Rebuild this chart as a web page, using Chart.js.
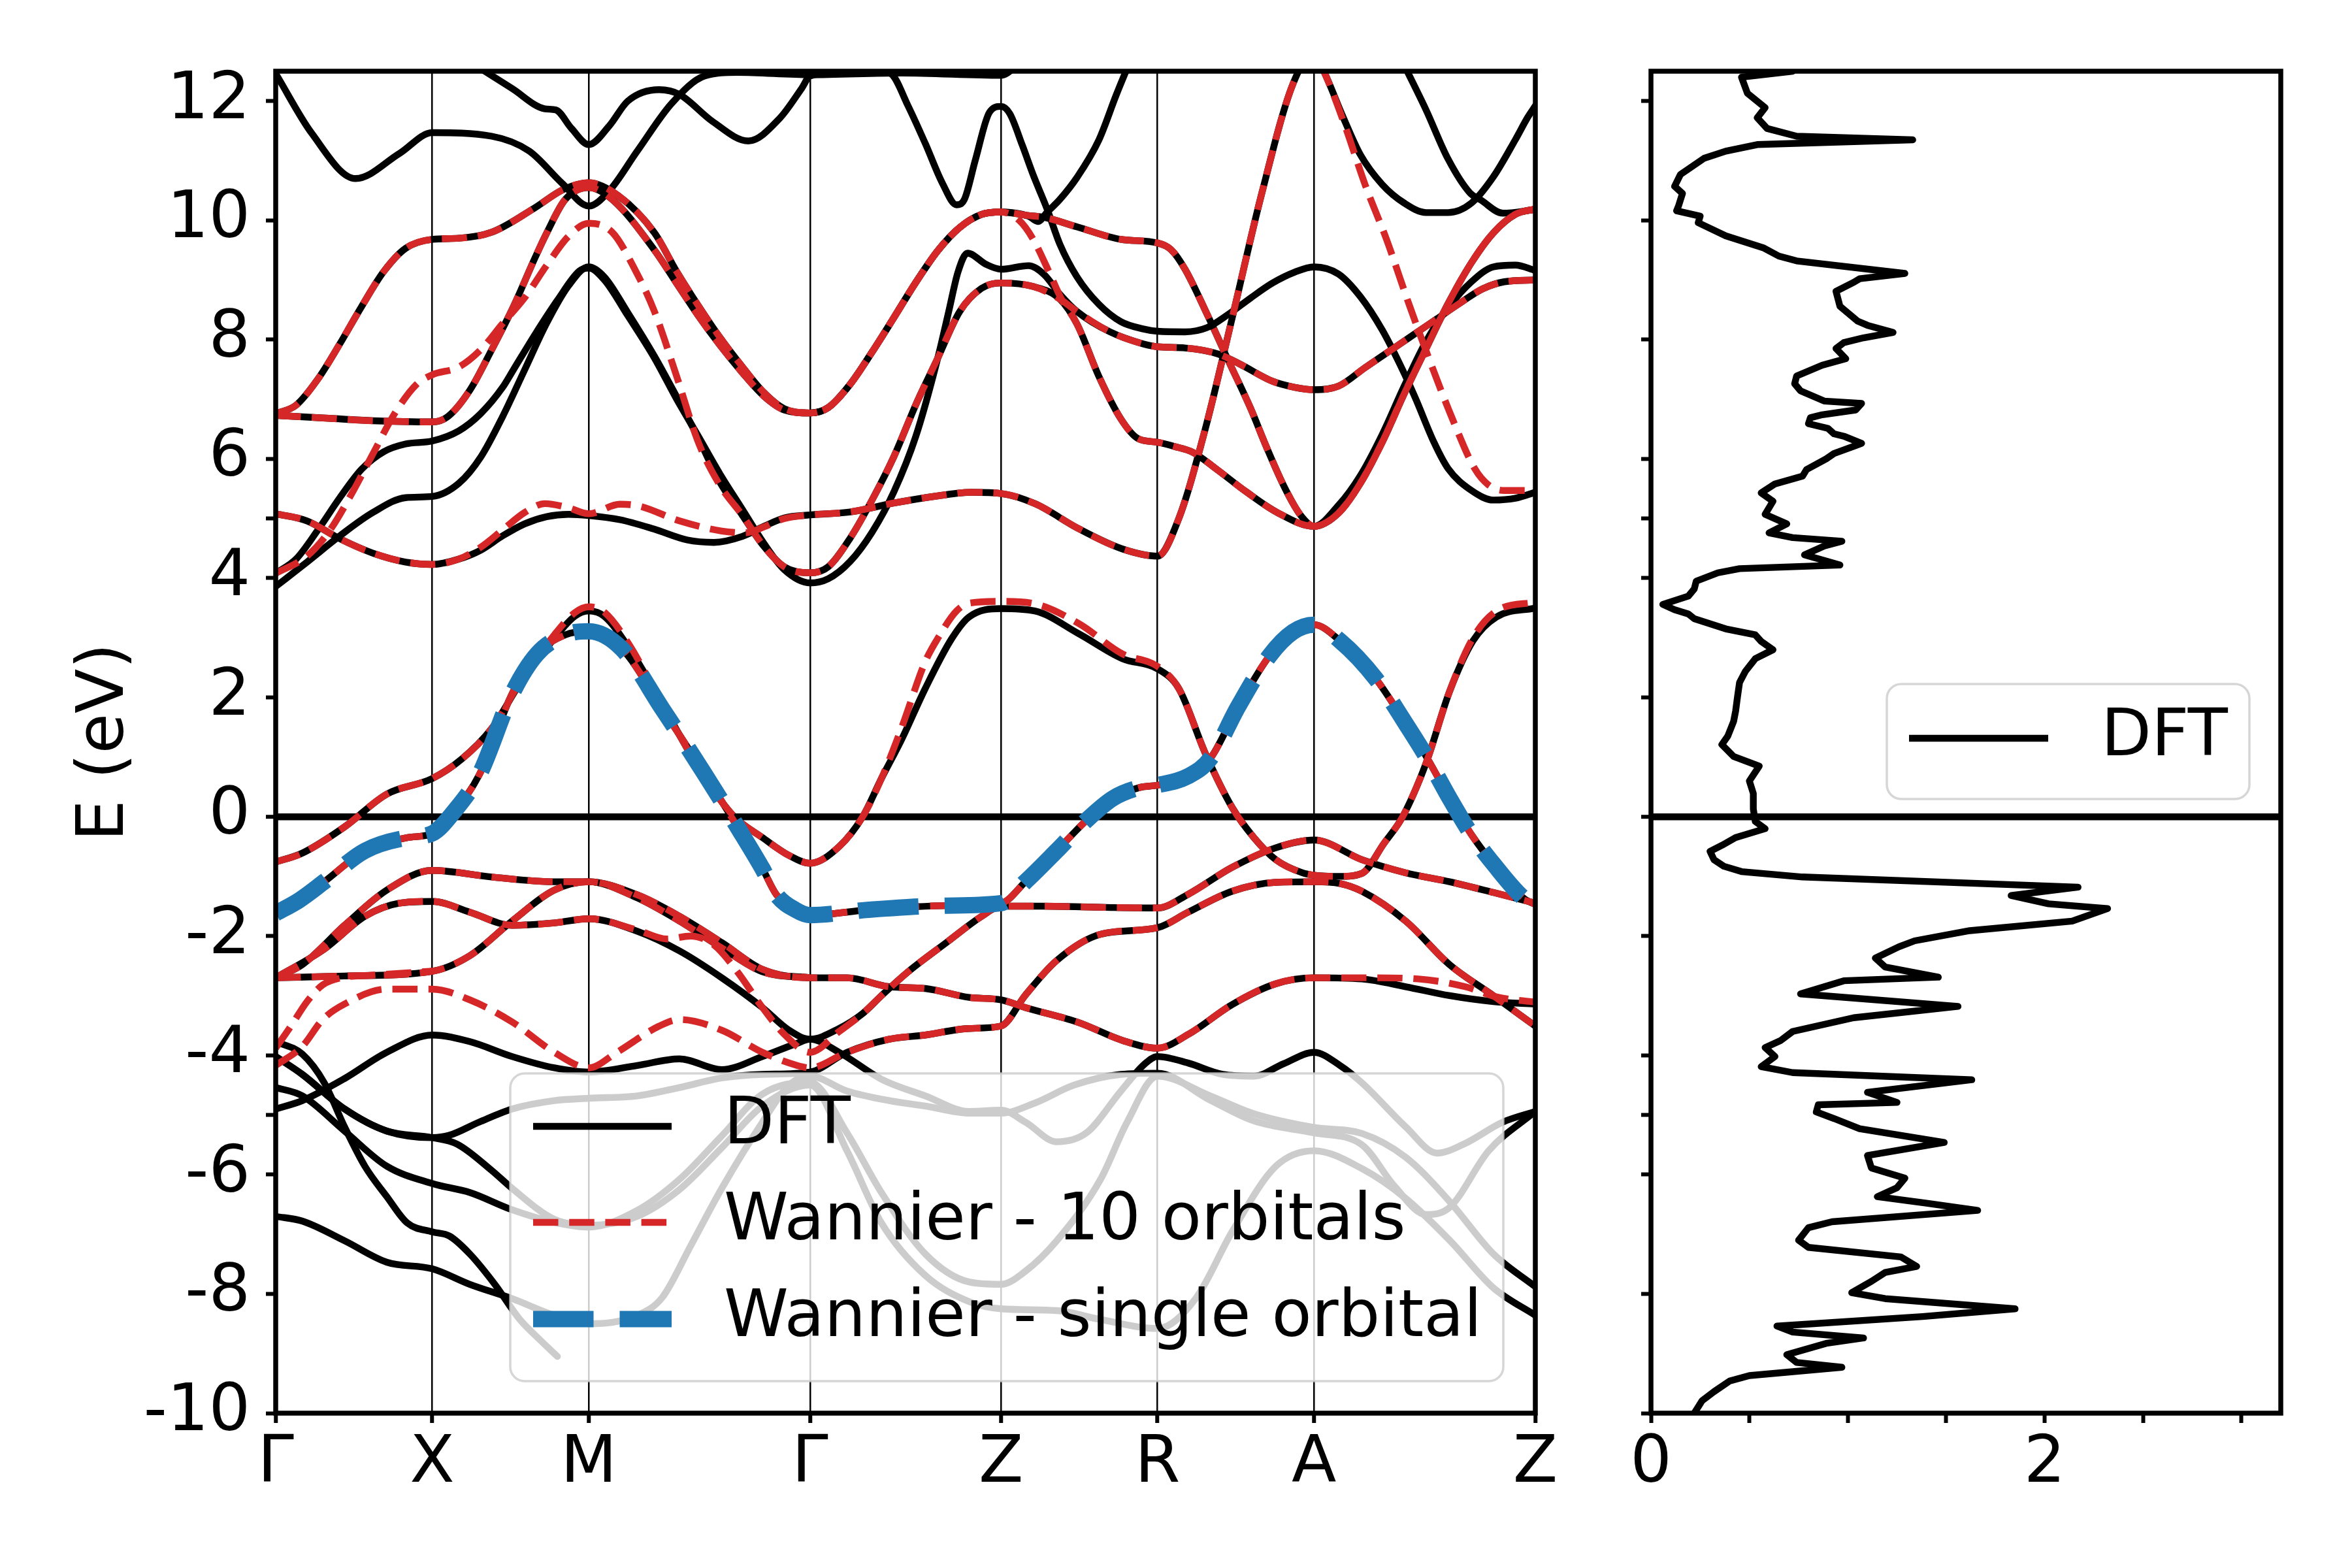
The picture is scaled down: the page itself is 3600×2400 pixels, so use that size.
<!DOCTYPE html>
<html>
<head>
<meta charset="utf-8">
<script src="https://cdn.jsdelivr.net/npm/chart.js@4.4.1/dist/chart.umd.min.js"></script>
<style>
  html, body { margin: 0; padding: 0; background: #fff; }
  #wrap { position: relative; width: 3600px; height: 2400px; }
  #wrap canvas { position: absolute; left: 0; top: 0; }
</style>
</head>
<body>
<div id="wrap">
  <canvas id="dos" width="3600" height="2400"></canvas>
  <canvas id="bands" width="3600" height="2400"></canvas>
</div>
<script>
// k-path
const kTicks = [0, 1, 2, 3.414, 4.634, 5.634, 6.634, 8.048];
const kLabels = ['Γ', 'X', 'M', 'Γ', 'Z', 'R', 'A', 'Z'];
const eTicks = [-10, -8, -6, -5, -4, -2, 0, 2, 4, 5, 6, 8, 10, 12];
const dosTicks = [0, 0.5, 1, 1.5, 2, 2.5, 3];
const seriesLabels = ['DFT', 'Wannier - 10 orbitals', 'Wannier - single orbital'];

// DFT bands [k, E]
const dft01 = [[0,12.46],[0.23,11.46],[0.51,10.70],[0.79,11.12],[1,11.47],[1.38,11.41],[1.62,11.16],[1.83,10.62],[2,10.24],[2.13,10.49],[2.31,11.16],[2.53,11.96],[2.74,12.42],[2.95,12.48],[3.414,12.44],[4.0,12.47],[4.634,12.43],[4.75,12.62]];
const dft02 = [[1.30,12.56],[1.51,12.21],[1.72,11.87],[1.79,11.85],[1.89,11.54],[2,11.27],[2.13,11.58],[2.25,12.0],[2.45,12.19],[2.58,12.11],[2.79,11.66],[3.02,11.33],[3.22,11.71],[3.36,12.21],[3.414,12.42],[3.6,12.48],[3.85,12.5],[3.93,12.46],[4.04,11.92],[4.15,11.29],[4.26,10.62],[4.35,10.26],[4.40,10.35],[4.47,11.01],[4.56,11.81],[4.634,11.91],[4.69,11.79],[4.77,11.26],[4.84,10.76],[4.93,10.18],[5.01,9.60],[5.12,9.05],[5.26,8.59],[5.40,8.30],[5.54,8.18],[5.634,8.14],[5.81,8.13],[5.95,8.20],[6.09,8.43],[6.23,8.70],[6.37,8.95],[6.51,9.13],[6.634,9.22],[6.79,9.10],[6.93,8.72],[7.07,8.16],[7.18,7.60],[7.28,7.03],[7.40,6.28],[7.49,5.84],[7.64,5.47],[7.78,5.31],[7.92,5.34],[8.048,5.44]];
const dft03 = [[0,6.76],[0.13,6.90],[0.27,7.34],[0.41,7.93],[0.55,8.56],[0.69,9.14],[0.83,9.53],[1,9.68],[1.17,9.70],[1.38,9.80],[1.65,10.2],[1.84,10.52],[2,10.63],[2.19,10.41],[2.42,9.79],[2.56,9.15],[2.70,8.57],[2.84,8.03],[2.98,7.55],[3.12,7.11],[3.25,6.84],[3.414,6.77],[3.53,6.86],[3.67,7.25],[3.81,7.79],[3.95,8.37],[4.09,8.96],[4.23,9.49],[4.37,9.88],[4.51,10.1],[4.634,10.14],[4.81,10.07],[4.87,9.98],[4.93,10.14],[5.01,10.35],[5.12,10.72],[5.26,11.35],[5.37,12.1],[5.44,12.55]];
const dft04 = [[0,6.73],[0.34,6.68],[0.62,6.64],[1,6.62],[1.10,6.71],[1.24,7.15],[1.38,7.83],[1.52,8.56],[1.66,9.39],[1.73,9.78],[1.85,10.35],[2,10.55],[2.15,10.35],[2.42,9.5],[2.56,8.95],[2.70,8.4],[2.84,7.9],[2.98,7.45],[3.12,7.05],[3.25,6.82],[3.414,6.77],[3.53,6.86],[3.67,7.25],[3.81,7.79],[3.95,8.37],[4.09,8.96],[4.23,9.49],[4.37,9.88],[4.51,10.1],[4.634,10.14],[4.81,10.08],[4.91,10.05],[5.12,9.89],[5.40,9.68],[5.634,9.62],[5.72,9.51],[5.81,9.18],[5.95,8.43],[6.09,7.63],[6.23,6.84],[6.33,6.2],[6.45,5.5],[6.55,5.05],[6.634,4.87],[6.79,5.22],[6.93,5.72],[7.07,6.41],[7.21,7.22],[7.35,7.97],[7.49,8.53],[7.64,8.97],[7.78,9.22],[7.92,9.25],[8.048,9.16]];
const dft05 = [[0,5.08],[0.20,4.96],[0.41,4.66],[0.62,4.42],[0.83,4.27],[1,4.23],[1.17,4.32],[1.31,4.47],[1.45,4.71],[1.59,4.91],[1.73,5.03],[1.87,5.07],[2,5.05],[2.2,4.98],[2.42,4.82],[2.63,4.64],[2.80,4.60],[2.98,4.70],[3.12,4.87],[3.25,5.01],[3.414,5.06],[3.67,5.11],[3.95,5.26],[4.23,5.38],[4.45,5.44],[4.634,5.42],[4.85,5.25],[5.13,4.83],[5.41,4.49],[5.634,4.37],[5.77,5.0],[5.94,6.51],[6.11,8.35],[6.30,10.45],[6.50,12.29],[6.634,12.8],[6.70,12.48],[6.82,11.73],[6.93,11.1],[7.07,10.6],[7.21,10.29],[7.35,10.13],[7.49,10.13],[7.64,10.29],[7.78,10.73],[7.92,11.35],[8.0,11.73],[8.048,11.92]];
const dft06 = [[0,4.08],[0.13,4.32],[0.27,4.81],[0.41,5.35],[0.55,5.83],[0.69,6.12],[0.83,6.25],[1,6.30],[1.17,6.47],[1.31,6.76],[1.45,7.2],[1.52,7.5],[1.66,8.1],[1.80,8.66],[1.94,9.15],[2,9.2],[2.1,9.0],[2.25,8.4],[2.42,7.69],[2.56,7.01],[2.70,6.38],[2.84,5.74],[2.98,5.16],[3.12,4.58],[3.25,4.14],[3.414,3.92],[3.53,3.99],[3.67,4.28],[3.81,4.77],[3.95,5.45],[4.09,6.38],[4.23,7.69],[4.30,8.47],[4.36,9.14],[4.42,9.45],[4.54,9.26],[4.634,9.18],[4.81,9.24],[4.91,9.09],[5.01,8.76],[5.12,8.47],[5.33,8.13],[5.54,7.93],[5.634,7.88],[5.81,7.86],[6.02,7.76],[6.16,7.59],[6.37,7.30],[6.51,7.2],[6.634,7.16],[6.79,7.22],[6.96,7.53],[7.14,7.85],[7.28,8.10],[7.42,8.35],[7.56,8.60],[7.71,8.85],[7.85,8.97],[8.048,9.0]];
const dft07 = [[0,3.86],[0.2,4.27],[0.41,4.71],[0.62,5.10],[0.83,5.35],[1,5.37],[1.17,5.59],[1.31,6.03],[1.45,6.71],[1.59,7.49],[1.73,8.27],[1.87,8.90],[2,9.22],[2.1,9.05],[2.25,8.45],[2.42,7.72],[2.56,7.05],[2.70,6.35],[2.84,5.6],[2.98,5.06],[3.12,4.53],[3.25,4.19],[3.414,4.09],[3.53,4.19],[3.67,4.67],[3.81,5.31],[3.95,6.04],[4.09,6.91],[4.23,7.69],[4.37,8.47],[4.51,8.86],[4.634,8.95],[4.84,8.89],[5.01,8.68],[5.12,8.26],[5.26,7.38],[5.40,6.67],[5.51,6.34],[5.634,6.28],[5.74,6.21],[5.86,6.11],[6.0,5.85],[6.2,5.45],[6.4,5.1],[6.634,4.87],[6.79,5.09],[6.93,5.59],[7.07,6.28],[7.21,7.09],[7.35,7.85],[7.49,8.60],[7.64,9.29],[7.78,9.79],[7.92,10.1],[8.048,10.19]];
const dft08 = [[7.22,12.55],[7.35,11.85],[7.49,11.03],[7.63,10.46],[7.70,10.34],[7.84,10.12],[8.048,10.18]];
const dft09 = [[0,-0.76],[0.17,-0.61],[0.44,-0.17],[0.71,0.38],[1,0.64],[1.19,0.97],[1.38,1.48],[1.56,2.23],[1.78,2.99],[1.91,3.36],[2,3.45],[2.10,3.36],[2.26,2.82],[2.45,1.98],[2.63,1.14],[2.79,0.47],[2.93,0.0],[3.11,-0.35],[3.28,-0.65],[3.414,-0.78],[3.6,-0.5],[3.75,0.0],[3.87,0.64],[4.0,1.3],[4.15,2.15],[4.32,2.99],[4.43,3.35],[4.634,3.49],[4.85,3.45],[5.13,3.07],[5.41,2.65],[5.634,2.48],[5.77,2.15],[5.94,1.06],[6.11,0.16],[6.25,-0.35],[6.39,-0.72],[6.56,-0.94],[6.634,-0.98],[6.8,-1.0],[6.94,-0.95],[7.08,-0.45],[7.2,0.0],[7.35,0.9],[7.5,2.1],[7.65,2.95],[7.8,3.35],[8.048,3.5]];
const dft11 = [[0,-2.70],[0.17,-2.48],[0.44,-1.82],[0.71,-1.23],[1,-0.90],[1.38,-1.01],[1.78,-1.09],[2,-1.09],[2.31,-1.31],[2.58,-1.67],[2.85,-2.11],[3.11,-2.56],[3.414,-2.70],[3.65,-2.70],[3.92,-2.85],[4.15,-2.88],[4.43,-3.03],[4.634,-3.07],[4.79,-3.2],[5.13,-3.45],[5.41,-3.75],[5.634,-3.88],[5.83,-3.65],[6.11,-3.15],[6.39,-2.8],[6.634,-2.70],[6.94,-2.72],[7.22,-2.85],[7.5,-3.0],[7.78,-3.1],[8.048,-3.14]];
const dft12 = [[0,-2.70],[0.31,-2.22],[0.57,-1.67],[0.79,-1.45],[1,-1.42],[1.24,-1.60],[1.51,-1.82],[1.78,-1.78],[2,-1.71],[2.31,-1.92],[2.58,-2.25],[2.85,-2.7],[3.11,-3.2],[3.28,-3.58],[3.414,-3.73],[3.6,-3.55],[3.75,-3.3],[3.87,-3.0],[4.04,-2.6],[4.29,-2.1],[4.51,-1.67],[4.634,-1.5],[4.9,-1.5],[5.3,-1.52],[5.634,-1.53],[5.83,-1.3],[6.11,-0.85],[6.39,-0.52],[6.634,-0.39],[6.94,-0.72],[7.22,-0.94],[7.5,-1.09],[7.78,-1.27],[8.048,-1.45]];
const dft13 = [[0,-2.70],[0.44,-2.67],[1,-2.59],[1.24,-2.33],[1.51,-1.75],[1.78,-1.23],[2,-1.09],[2.31,-1.36],[2.58,-1.75],[2.85,-2.2],[3.11,-2.6],[3.414,-2.70]];
const dft14 = [[0,-4.02],[0.17,-4.32],[0.44,-4.90],[0.71,-5.27],[1,-5.38],[1.11,-5.34],[1.30,-5.12],[1.51,-4.90],[1.78,-4.76],[2,-4.72],[2.31,-4.68],[2.58,-4.54],[2.85,-4.38],[3.11,-4.32],[3.414,-4.28],[3.65,-3.95],[3.92,-3.73],[4.15,-3.66],[4.43,-3.55],[4.634,-3.51],[4.79,-2.99],[4.99,-2.41],[5.27,-1.97],[5.634,-1.86],[5.83,-1.6],[6.11,-1.25],[6.39,-1.1],[6.634,-1.09],[6.8,-1.12],[6.94,-1.25],[7.22,-1.75],[7.5,-2.48],[7.78,-3.0],[8.048,-3.51]];
const dft15 = [[0,-4.90],[0.17,-4.76],[0.44,-4.39],[0.71,-3.95],[1,-3.66],[1.24,-3.77],[1.51,-4.02],[1.78,-4.21],[2,-4.28],[2.31,-4.17],[2.58,-4.06],[2.85,-4.24],[3.11,-4.02],[3.33,-3.80],[3.414,-3.73],[3.6,-3.95],[3.87,-4.4],[4.15,-4.68],[4.43,-4.94],[4.634,-4.92],[4.79,-5.12],[4.99,-5.45],[5.18,-5.3],[5.40,-4.6],[5.55,-4.15],[5.634,-4.02],[5.83,-4.13],[6.05,-4.32],[6.25,-4.35],[6.44,-4.14],[6.634,-3.95],[6.80,-4.17],[6.94,-4.46],[7.22,-5.2],[7.42,-5.64],[7.59,-5.49],[7.84,-5.12],[8.048,-4.94]];
const dft16 = [[0,-3.77],[0.17,-3.98],[0.31,-4.46],[0.44,-5.20],[0.57,-5.86],[0.71,-6.37],[0.84,-6.81],[1,-6.96],[1.11,-7.03],[1.24,-7.33],[1.40,-7.84],[1.56,-8.43],[1.68,-8.75],[1.80,-9.05]];
const dft17 = [[0,-4.54],[0.17,-4.68],[0.44,-5.27],[0.71,-5.86],[1,-6.15],[1.24,-6.30],[1.51,-6.59],[1.78,-6.8],[2,-6.88],[2.31,-6.6],[2.58,-6.08],[2.85,-5.35],[3.11,-4.65],[3.414,-4.45],[3.65,-5.3],[3.87,-6.3],[4.15,-7.33],[4.43,-7.8],[4.634,-7.84],[4.79,-7.62],[4.99,-7.11],[5.27,-6.08],[5.44,-5.12],[5.634,-4.35],[5.97,-4.68],[6.25,-4.98],[6.634,-5.21],[6.94,-5.31],[7.22,-5.71],[7.5,-6.45],[7.78,-7.33],[8.048,-7.88]];
const dft18 = [[0,-4.02],[0.17,-4.32],[0.44,-4.90],[0.71,-5.27],[1,-5.38],[1.16,-5.49],[1.38,-5.93],[1.51,-6.23],[1.78,-6.75],[2,-6.85],[2.31,-6.7],[2.58,-6.25],[2.85,-5.55],[3.11,-4.85],[3.414,-4.5],[3.65,-5.6],[3.87,-6.81],[4.15,-7.69],[4.43,-8.13],[4.634,-8.25],[4.99,-8.28],[5.27,-8.43],[5.634,-8.58],[5.88,-8.07],[6.11,-6.96],[6.39,-5.86],[6.634,-5.6],[6.94,-5.9],[7.22,-6.4],[7.5,-7.1],[7.78,-7.9],[8.048,-8.36]];
const dft19 = [[0,-6.70],[0.17,-6.78],[0.44,-7.11],[0.71,-7.47],[1,-7.58],[1.24,-7.84],[1.51,-8.08],[1.78,-8.36],[2,-8.5],[2.31,-8.36],[2.47,-8.06],[2.65,-7.2],[2.85,-6.23],[3.11,-5.12],[3.28,-4.5],[3.414,-4.35],[3.65,-4.6],[3.92,-4.76],[4.15,-4.85],[4.43,-4.97],[4.634,-4.97],[4.85,-4.8],[5.1,-4.5],[5.4,-4.32],[5.634,-4.3],[5.97,-4.75],[6.25,-5.1],[6.634,-5.3],[6.94,-5.5],[7.15,-6.2],[7.35,-6.67],[7.5,-6.55],[7.75,-5.6],[8.048,-4.94]];

// Wannier, 10 orbitals
const w01 = [[0,6.76],[0.13,6.90],[0.27,7.34],[0.41,7.93],[0.55,8.56],[0.69,9.14],[0.83,9.53],[1,9.68],[1.17,9.70],[1.38,9.80],[1.65,10.2],[1.84,10.52],[2,10.63],[2.19,10.41],[2.42,9.79],[2.56,9.15],[2.70,8.57],[2.84,8.03],[2.98,7.55],[3.12,7.11],[3.25,6.84],[3.414,6.77],[3.53,6.86],[3.67,7.25],[3.81,7.79],[3.95,8.37],[4.09,8.96],[4.23,9.49],[4.37,9.88],[4.51,10.1],[4.634,10.14],[4.81,10.08],[4.91,10.05],[5.12,9.89],[5.40,9.68],[5.634,9.62],[5.72,9.51],[5.81,9.18],[5.95,8.43],[6.09,7.63],[6.23,6.84],[6.33,6.2],[6.45,5.5],[6.55,5.05],[6.634,4.87],[6.79,5.09],[6.93,5.59],[7.07,6.28],[7.21,7.09],[7.35,7.85],[7.49,8.60],[7.64,9.29],[7.78,9.79],[7.92,10.1],[8.048,10.19]];
const w02 = [[0,6.73],[0.34,6.68],[0.62,6.64],[1,6.62],[1.10,6.71],[1.24,7.15],[1.38,7.83],[1.52,8.56],[1.66,9.39],[1.73,9.78],[1.85,10.35],[2,10.55],[2.15,10.35],[2.42,9.5],[2.56,8.95],[2.70,8.4],[2.84,7.9],[2.98,7.45],[3.12,7.05],[3.25,6.82],[3.414,6.77],[3.53,6.86],[3.67,7.25],[3.81,7.79],[3.95,8.37],[4.09,8.96],[4.23,9.49],[4.37,9.88],[4.51,10.1],[4.634,10.14],[4.75,10.0],[4.84,9.68],[4.94,9.14],[5.02,8.68],[5.12,8.26],[5.26,7.38],[5.40,6.67],[5.51,6.34],[5.634,6.28],[5.74,6.21],[5.86,6.11],[6.0,5.85],[6.2,5.45],[6.4,5.1],[6.634,4.87],[6.79,5.09],[6.93,5.59],[7.07,6.28],[7.21,7.09],[7.35,7.85],[7.49,8.60],[7.64,9.29],[7.78,9.79],[7.92,10.1],[8.048,10.19]];
const w03 = [[0,5.08],[0.20,4.96],[0.41,4.66],[0.62,4.42],[0.83,4.27],[1,4.23],[1.17,4.32],[1.31,4.52],[1.45,4.81],[1.59,5.10],[1.72,5.25],[1.87,5.18],[2,5.08],[2.2,5.24],[2.32,5.21],[2.58,4.96],[2.85,4.79],[3.0,4.76],[3.12,4.86],[3.25,5.0],[3.414,5.06],[3.67,5.11],[3.95,5.26],[4.23,5.38],[4.45,5.44],[4.634,5.42],[4.85,5.25],[5.13,4.83],[5.41,4.49],[5.634,4.37],[5.77,5.0],[5.94,6.51],[6.11,8.35],[6.30,10.45],[6.50,12.29],[6.634,12.8],[6.70,12.48],[6.83,11.6],[6.96,10.6],[7.10,9.66],[7.24,8.6],[7.38,7.6],[7.52,6.66],[7.66,5.84],[7.75,5.56],[7.85,5.47],[8.048,5.47]];
const w04 = [[0,4.08],[0.20,4.37],[0.34,4.78],[0.48,5.39],[0.62,6.08],[0.76,6.76],[0.9,7.25],[1,7.41],[1.17,7.54],[1.31,7.83],[1.45,8.27],[1.59,8.70],[1.73,9.24],[1.87,9.73],[2,9.95],[2.15,9.8],[2.3,9.15],[2.42,8.47],[2.56,7.40],[2.70,6.28],[2.84,5.55],[2.98,5.06],[3.12,4.53],[3.25,4.19],[3.414,4.09],[3.53,4.19],[3.67,4.67],[3.81,5.31],[3.95,6.04],[4.09,6.91],[4.23,7.69],[4.37,8.47],[4.51,8.86],[4.634,8.95],[4.84,8.89],[5.01,8.68],[5.12,8.47],[5.33,8.13],[5.54,7.93],[5.634,7.88],[5.81,7.86],[6.02,7.76],[6.16,7.59],[6.37,7.30],[6.51,7.2],[6.634,7.16],[6.79,7.22],[6.96,7.53],[7.14,7.85],[7.28,8.10],[7.42,8.35],[7.56,8.60],[7.71,8.85],[7.85,8.97],[8.048,9.0]];
const w05 = [[0,-0.76],[0.17,-0.61],[0.44,-0.17],[0.71,0.38],[1,0.64],[1.19,0.97],[1.38,1.48],[1.56,2.25],[1.78,3.05],[1.91,3.42],[2,3.52],[2.10,3.43],[2.26,2.88],[2.45,1.98],[2.63,1.14],[2.79,0.47],[2.93,0.0],[3.11,-0.35],[3.28,-0.65],[3.414,-0.78],[3.6,-0.5],[3.75,0.0],[3.87,0.64],[4.0,1.5],[4.15,2.6],[4.23,2.99],[4.35,3.45],[4.43,3.58],[4.634,3.61],[4.85,3.57],[5.13,3.24],[5.41,2.73],[5.634,2.52],[5.77,2.15],[5.94,1.06],[6.11,0.16],[6.25,-0.35],[6.39,-0.72],[6.56,-0.94],[6.634,-0.98],[6.8,-1.0],[6.94,-0.95],[7.08,-0.45],[7.2,0.0],[7.35,0.9],[7.5,2.1],[7.65,3.0],[7.8,3.45],[8.048,3.6]];
const w07 = [[0,-2.70],[0.17,-2.48],[0.44,-1.82],[0.71,-1.23],[1,-0.90],[1.38,-1.01],[1.78,-1.09],[2,-1.09],[2.31,-1.31],[2.58,-1.67],[2.85,-2.11],[3.11,-2.56],[3.414,-2.70],[3.65,-2.70],[3.92,-2.85],[4.15,-2.88],[4.43,-3.03],[4.634,-3.07],[4.79,-3.2],[5.13,-3.45],[5.41,-3.75],[5.634,-3.88],[5.83,-3.65],[6.11,-3.15],[6.39,-2.8],[6.634,-2.70],[7.0,-2.70],[7.3,-2.72],[7.6,-2.85],[7.8,-3.02],[8.048,-3.11]];
const w08 = [[0,-2.70],[0.31,-2.22],[0.57,-1.67],[0.79,-1.45],[1,-1.42],[1.24,-1.60],[1.51,-1.82],[1.78,-1.78],[2,-1.71],[2.31,-1.9],[2.5,-2.05],[2.65,-2.0],[2.8,-2.15],[2.95,-2.6],[3.11,-3.2],[3.25,-3.65],[3.414,-3.95],[3.6,-3.6],[3.75,-3.3],[3.87,-3.0],[4.04,-2.6],[4.29,-2.1],[4.51,-1.67],[4.634,-1.5],[4.9,-1.5],[5.3,-1.52],[5.634,-1.53],[5.83,-1.3],[6.11,-0.85],[6.39,-0.52],[6.634,-0.39],[6.94,-0.72],[7.22,-0.94],[7.5,-1.09],[7.78,-1.27],[8.048,-1.45]];
const w10 = [[0,-4.17],[0.17,-3.85],[0.3,-3.4],[0.44,-3.14],[0.71,-2.89],[1,-2.89],[1.24,-3.07],[1.51,-3.44],[1.78,-3.95],[2,-4.21],[2.18,-3.95],[2.45,-3.51],[2.58,-3.40],[2.85,-3.58],[3.11,-3.95],[3.33,-4.17],[3.414,-4.21],[3.65,-3.95],[3.92,-3.73],[4.15,-3.66],[4.43,-3.55],[4.634,-3.51],[4.79,-2.99],[4.99,-2.41],[5.27,-1.97],[5.634,-1.86],[5.83,-1.6],[6.11,-1.25],[6.39,-1.1],[6.634,-1.09],[6.8,-1.12],[6.94,-1.25],[7.22,-1.75],[7.5,-2.48],[7.78,-3.0],[8.048,-3.51]];
const w11 = [[0,-3.88],[0.1,-3.5],[0.2,-3.1],[0.3,-2.82],[0.42,-2.7],[0.6,-2.66],[1,-2.59]];

// Wannier, single orbital (DFT band under it follows the same values)
const singleOrbital = [[0,-1.62],[0.15,-1.4],[0.31,-1.09],[0.57,-0.57],[0.84,-0.35],[1,-0.28],[1.14,0.09],[1.30,0.70],[1.51,2.06],[1.67,2.73],[1.85,3.05],[2,3.11],[2.21,2.82],[2.47,1.81],[2.74,0.72],[2.95,-0.17],[3.11,-0.87],[3.2,-1.31],[3.32,-1.56],[3.414,-1.65],[3.79,-1.56],[4.29,-1.49],[4.634,-1.45],[4.79,-1.09],[4.99,-0.57],[5.18,-0.06],[5.35,0.31],[5.52,0.49],[5.634,0.53],[5.83,0.68],[5.97,0.97],[6.15,1.85],[6.35,2.7],[6.5,3.1],[6.634,3.22],[6.8,2.95],[7.03,2.31],[7.22,1.56],[7.36,0.97],[7.5,0.31],[7.64,-0.3],[7.78,-0.79],[7.98,-1.38],[8.048,-1.47]];

// DFT density of states
const dosEnergy = [12.50,12.40,12.13,11.89,11.72,11.54,11.41,11.35,11.27,11.16,11.04,10.77,10.57,10.45,10.24,10.16,10.07,9.96,9.74,9.54,9.40,9.32,9.11,9.02,8.96,8.81,8.56,8.31,8.24,8.12,8.03,7.95,7.85,7.68,7.57,7.39,7.26,7.14,6.97,6.93,6.82,6.74,6.69,6.59,6.51,6.42,6.38,6.26,6.21,6.09,6.00,5.82,5.71,5.58,5.43,5.29,5.07,4.91,4.76,4.68,4.62,4.54,4.39,4.22,4.16,4.09,3.95,3.82,3.70,3.56,3.47,3.40,3.32,3.15,3.05,2.94,2.80,2.65,2.44,2.25,2.02,1.77,1.60,1.35,1.21,1.01,0.85,0.60,0.39,0.13,-0.08,-0.20,-0.35,-0.48,-0.58,-0.72,-0.83,-0.92,-1.01,-1.18,-1.32,-1.46,-1.54,-1.75,-1.91,-2.08,-2.18,-2.37,-2.52,-2.69,-2.75,-2.97,-3.18,-3.37,-3.60,-3.75,-3.87,-4.02,-4.19,-4.29,-4.41,-4.62,-4.79,-4.83,-4.95,-5.06,-5.23,-5.46,-5.68,-5.89,-6.06,-6.22,-6.37,-6.48,-6.60,-6.79,-6.89,-7.10,-7.22,-7.38,-7.54,-7.64,-7.79,-7.98,-8.08,-8.25,-8.38,-8.54,-8.64,-8.74,-8.83,-9.02,-9.15,-9.23,-9.37,-9.46,-9.64,-9.79,-10.0];
const dosValue = [0.72,0.46,0.49,0.58,0.54,0.59,0.74,1.33,0.54,0.38,0.27,0.15,0.12,0.16,0.14,0.13,0.25,0.24,0.38,0.57,0.65,0.74,1.29,1.06,1.03,0.94,0.96,1.05,1.10,1.23,1.08,0.98,0.94,0.99,0.87,0.74,0.73,0.76,0.88,1.07,1.04,0.87,0.81,0.80,0.90,0.93,0.98,1.07,1.03,0.93,0.89,0.79,0.77,0.63,0.56,0.62,0.58,0.69,0.60,0.72,0.97,0.88,0.78,0.96,0.45,0.34,0.23,0.22,0.19,0.06,0.12,0.19,0.22,0.38,0.53,0.56,0.62,0.53,0.48,0.45,0.44,0.43,0.42,0.39,0.36,0.42,0.55,0.50,0.52,0.52,0.53,0.58,0.43,0.36,0.30,0.32,0.37,0.46,0.77,2.17,1.83,2.02,2.32,2.14,1.62,1.34,1.26,1.14,1.19,1.46,0.98,0.76,1.56,1.03,0.72,0.66,0.58,0.63,0.56,0.72,1.63,1.10,1.25,0.85,0.84,0.93,1.06,1.49,1.10,1.12,1.29,1.25,1.15,1.40,1.66,0.92,0.80,0.75,0.80,1.27,1.35,1.19,1.12,1.02,1.19,1.85,1.38,0.64,0.72,1.08,0.89,0.69,0.74,0.97,0.50,0.40,0.32,0.26,0.22];

const dftBands = [dft01, dft02, dft03, dft04, dft05, dft06, dft07, dft08, dft09, singleOrbital, dft11, dft12, dft13, dft14, dft15, dft16, dft17, dft18, dft19];
const wannierBands = [w01, w02, w03, w04, w05, singleOrbital, w07, w08, dft13, w10, w11];

const BLACK = '#000000';
const RED = '#d62728';
const BLUE = '#1f77b4';
const LW = 10.4;
const RED_DASH = [38.5, 16.7];
const BLUE_DASH = [92.5, 40];

Chart.defaults.font.family = 'DejaVu Sans';
Chart.defaults.font.size = 100;
Chart.defaults.color = '#000';

// higher order is painted first, so DFT goes under the Wannier curves
function bandSet(data, color, width, order, dash) {
  return {
    data: data.map(p => ({ x: p[0], y: p[1] })),
    order: order,
    borderColor: color,
    borderWidth: width,
    borderDash: dash || [],
    borderCapStyle: dash ? 'butt' : 'round',
    borderJoinStyle: 'round',
    pointRadius: 0,
    fill: false,
    cubicInterpolationMode: 'monotone',
    clip: 0
  };
}

const framePlugin = {
  id: 'frame',
  afterDatasetsDraw(chart) {
    const { ctx, chartArea: a } = chart;
    ctx.save();
    ctx.strokeStyle = '#000';
    ctx.lineWidth = 7.5;
    ctx.strokeRect(a.left, a.top, a.right - a.left, a.bottom - a.top);
    ctx.restore();
  }
};

const boxLegend = {
  id: 'boxLegend',
  afterDraw(chart, args, opts) {
    const ctx = chart.ctx;
    const b = opts.box;
    ctx.save();
    ctx.beginPath();
    ctx.roundRect(b.x, b.y, b.w, b.h, 22);
    ctx.fillStyle = 'rgba(255,255,255,0.8)';
    ctx.fill();
    ctx.lineWidth = 3.5;
    ctx.strokeStyle = 'rgba(204,204,204,0.8)';
    ctx.stroke();
    opts.items.forEach(it => {
      ctx.beginPath();
      ctx.setLineDash(it.dash || []);
      ctx.lineCap = 'butt';
      ctx.strokeStyle = it.color;
      ctx.lineWidth = it.width;
      ctx.moveTo(opts.x1, it.y);
      ctx.lineTo(opts.x2, it.y);
      ctx.stroke();
      ctx.setLineDash([]);
      ctx.fillStyle = '#000';
      ctx.font = '100px "DejaVu Sans"';
      ctx.textBaseline = 'middle';
      ctx.textAlign = 'left';
      ctx.fillText(it.text, opts.tx, it.y);
    });
    ctx.restore();
  }
};

const zeroGrid = {
  drawOnChartArea: true,
  color: c => (c.tick && c.tick.value === 0) ? '#000' : 'rgba(0,0,0,0)',
  lineWidth: c => (c.tick && c.tick.value === 0) ? LW : 1,
  tickColor: '#000',
  tickWidth: 6,
  tickLength: 15
};

const bandDatasets = [
  ...dftBands.map(b => bandSet(b, BLACK, LW, 3)),
  ...wannierBands.map(b => bandSet(b, RED, LW, 2, RED_DASH)),
  bandSet(singleOrbital, BLUE, 25, 1, BLUE_DASH)
];

new Chart(document.getElementById('bands'), {
  type: 'line',
  data: { datasets: bandDatasets },
  options: {
    responsive: false,
    animation: false,
    devicePixelRatio: 1,
    layout: { padding: { left: 0, top: 109, right: 1250, bottom: 0 } },
    plugins: {
      legend: { display: false },
      tooltip: { enabled: false },
      boxLegend: {
        box: { x: 781, y: 1643, w: 1520, h: 471 },
        x1: 816, x2: 1028, tx: 1108,
        items: [
          { text: seriesLabels[0], color: BLACK, width: LW, y: 1724 },
          { text: seriesLabels[1], color: RED, width: LW, dash: RED_DASH, y: 1871 },
          { text: seriesLabels[2], color: BLUE, width: 25, dash: BLUE_DASH, y: 2019 }
        ]
      }
    },
    scales: {
      x: {
        type: 'linear', min: 0, max: kTicks[kTicks.length - 1],
        afterBuildTicks: ax => { ax.ticks = kTicks.map(v => ({ value: v })); },
        afterFit: ax => { ax.height = 237; },
        ticks: { callback: (v, i) => kLabels[i], padding: 4, maxRotation: 0, autoSkip: false },
        grid: { drawOnChartArea: true, color: '#000', lineWidth: 2.5, tickColor: '#000', tickWidth: 6, tickLength: 15 },
        border: { display: false }
      },
      y: {
        type: 'linear', min: -10, max: 12.5,
        afterBuildTicks: ax => { ax.ticks = eTicks.map(v => ({ value: v })); },
        afterFit: ax => { ax.width = 422; },
        ticks: { callback: v => (Math.abs(v) === 5 ? '' : String(v)), padding: 24 },
        grid: zeroGrid,
        border: { display: false },
        title: { display: true, text: 'E (eV)', padding: { top: 102, bottom: 0 } }
      }
    }
  },
  plugins: [framePlugin, boxLegend]
});

new Chart(document.getElementById('dos'), {
  type: 'line',
  data: {
    datasets: [{
      data: dosValue.map((d, i) => ({ x: d, y: dosEnergy[i] })),
      borderColor: BLACK, borderWidth: LW, pointRadius: 0, tension: 0,
      borderJoinStyle: 'round', borderCapStyle: 'round', fill: false, clip: 0
    }]
  },
  options: {
    responsive: false,
    animation: false,
    devicePixelRatio: 1,
    layout: { padding: { left: 2487, top: 109, right: 109, bottom: 0 } },
    plugins: {
      legend: { display: false },
      tooltip: { enabled: false },
      boxLegend: {
        box: { x: 2888, y: 1047, w: 555, h: 176 },
        x1: 2922, x2: 3135, tx: 3216,
        items: [{ text: seriesLabels[0], color: BLACK, width: LW, y: 1130 }]
      }
    },
    scales: {
      x: {
        type: 'linear', min: 0, max: 3.2,
        afterBuildTicks: ax => { ax.ticks = dosTicks.map(v => ({ value: v })); },
        afterFit: ax => { ax.height = 237; },
        ticks: { callback: v => (v === 0 || v === 2 ? String(v) : ''), padding: 4, maxRotation: 0, autoSkip: false },
        grid: { drawOnChartArea: false, tickColor: '#000', tickWidth: 6, tickLength: 15 },
        border: { display: false }
      },
      y: {
        type: 'linear', min: -10, max: 12.5,
        afterBuildTicks: ax => { ax.ticks = eTicks.map(v => ({ value: v })); },
        afterFit: ax => { ax.width = 40; },
        ticks: { callback: () => '', padding: 0 },
        grid: zeroGrid,
        border: { display: false }
      }
    }
  },
  plugins: [framePlugin, boxLegend]
});
</script>
</body>
</html>
